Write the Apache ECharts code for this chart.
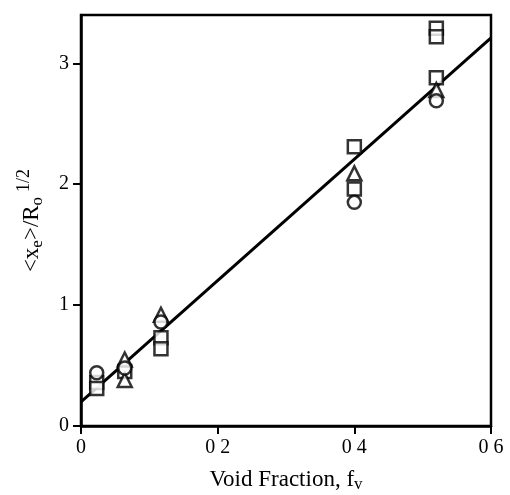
<!DOCTYPE html>
<html>
<head>
<meta charset="utf-8">
<script src="https://cdn.jsdelivr.net/npm/echarts@6/dist/echarts.min.js"></script>
<style>
  html, body { margin: 0; padding: 0; background: #fff; }
  #chart { width: 510px; height: 495px; }
</style>
</head>
<body>
<div id="chart"></div>
<script>
// values
const circleX = [0.023, 0.064, 0.117, 0.4, 0.52];
const circleY = [0.44, 0.48, 0.86, 1.85, 2.69];

const squareX = [0.023, 0.023, 0.064, 0.117, 0.117, 0.4, 0.4, 0.52, 0.52, 0.52];
const squareY = [0.36, 0.31, 0.45, 0.73, 0.64, 2.31, 1.96, 3.29, 3.22, 2.88];

const triangleX = [0.064, 0.064, 0.117, 0.4, 0.52];
const triangleY = [0.55, 0.38, 0.92, 2.09, 2.78];

const fitX = [0, 0.6];
const fitY = [0.2, 3.21];

const xTicks = [0, 0.2, 0.4, 0.6];
const yTicks = [0, 1, 2, 3];

const pairs = (xs, ys) => xs.map((x, i) => [x, ys[i]]);

const font = 'Liberation Serif';
const myChart = echarts.init(document.getElementById('chart'));

const markerStyle = { color: '#fff', borderColor: '#000', borderWidth: 2.5 };

let option = {
  animation: false,
  backgroundColor: '#fff',
  grid: {
    left: 81, right: 19, top: 15, bottom: 69,
    outerBoundsMode: 'none',
    show: true, borderColor: '#000', borderWidth: 2.5, backgroundColor: 'transparent'
  },
  xAxis: {
    type: 'value',
    min: 0, max: 0.6, interval: 0.2,
    name: '{t|Void Fraction, f}{s|v}',
    nameLocation: 'middle',
    nameGap: 40,
    nameTextStyle: {
      rich: {
        t: { fontFamily: font, fontSize: 23, color: '#000' },
        s: { fontFamily: font, fontSize: 17, color: '#000', padding: [10, 0, 0, 0] }
      }
    },
    axisLine: { lineStyle: { color: '#000', width: 2.5 } },
    axisTick: { inside: false, length: 8, lineStyle: { color: '#000', width: 2 }, customValues: xTicks },
    axisLabel: {
      fontFamily: font, fontSize: 20, color: '#000', margin: 12,
      customValues: xTicks,
      formatter: v => (v === 0 ? '0' : v.toFixed(1).replace('.', ' '))
    },
    splitLine: { show: false }
  },
  yAxis: {
    type: 'value',
    min: 0, max: 3.4, interval: 1,
    name: '{t|<x}{s|e}{t|>/R}{s|o}{p|1/2}',
    nameLocation: 'middle',
    nameGap: 32,
    nameRotate: 90,
    nameTextStyle: {
      rich: {
        t: { fontFamily: font, fontSize: 23, color: '#000' },
        s: { fontFamily: font, fontSize: 17, color: '#000', padding: [12, 0, 0, 0] },
        p: { fontFamily: font, fontSize: 18, color: '#000', padding: [0, 0, 16, 5] }
      }
    },
    axisLine: { lineStyle: { color: '#000', width: 2.5 } },
    axisTick: { inside: false, length: 8, lineStyle: { color: '#000', width: 2 }, customValues: yTicks },
    axisLabel: {
      fontFamily: font, fontSize: 20, color: '#000', margin: 12,
      customValues: yTicks,
      formatter: v => String(v)
    },
    splitLine: { show: false }
  },
  series: [
    {
      name: 'fit',
      type: 'line',
      data: pairs(fitX, fitY),
      showSymbol: false,
      lineStyle: { color: '#000', width: 3 },
      z: 2
    },
    {
      name: 'squares',
      type: 'scatter',
      symbol: 'rect',
      symbolSize: 13,
      data: pairs(squareX, squareY),
      itemStyle: markerStyle,
      z: 3
    },
    {
      name: 'triangles',
      type: 'scatter',
      symbol: 'triangle',
      symbolSize: 14,
      data: pairs(triangleX, triangleY),
      itemStyle: markerStyle,
      z: 4
    },
    {
      name: 'circles',
      type: 'scatter',
      symbol: 'circle',
      symbolSize: 13,
      data: pairs(circleX, circleY),
      itemStyle: markerStyle,
      z: 5
    }
  ]
};

option && myChart.setOption(option);
</script>
</body>
</html>
